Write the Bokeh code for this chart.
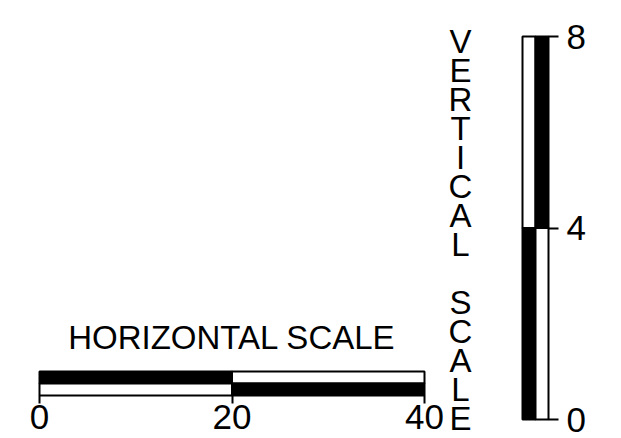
from bokeh.plotting import figure
from bokeh.models import Range1d, LinearAxis, FixedTicker, Label
from bokeh.core.properties import value
from bokeh.embed import file_html
from bokeh.resources import INLINE

# ---- data ----
h_ticks = [0, 20, 40]                 # horizontal scale tick labels
h_left = [0, 20]                      # horizontal scale segments
h_right = [20, 40]
h_top_fill = ["black", "white"]       # upper half of horizontal bar
h_bot_fill = ["white", "black"]       # lower half of horizontal bar

v_ticks = [0, 4, 8]                   # vertical scale tick labels
v_bottom = [0, 4]                     # vertical scale segments
v_top = [4, 8]
v_left_fill = ["black", "white"]      # left column of vertical bar
v_right_fill = ["white", "black"]     # right column of vertical bar

h_title = "HORIZONTAL SCALE"
v_title = "VERTICAL SCALE"

# ---- layout (figure pixels) ----
W, H = 621, 438
FONT = "Liberation Sans"

# horizontal scale placement
hx0_px, hx1_px = 39, 424              # pixel x of value 0 and 40
hbar_top, hbar_mid, hbar_bot = 371, 383, 395   # pixel y from top
# vertical scale placement
vy0_px, vy1_px = 419, 36              # pixel y (from top) of value 0 and 8
vbar_l, vbar_m, vbar_r = 522, 535, 548

hs = (h_ticks[-1] - h_ticks[0]) / (hx1_px - hx0_px)
h_range = Range1d(h_ticks[0] - hx0_px * hs, h_ticks[0] + (W - hx0_px) * hs)
vs = (v_ticks[-1] - v_ticks[0]) / (vy0_px - vy1_px)
v_range = Range1d(v_ticks[0] - (H - vy0_px) * vs, v_ticks[0] + vy0_px * vs)

p = figure(width=W, height=H, output_backend="svg", toolbar_location=None,
           x_range=Range1d(0, W), y_range=Range1d(H, 0),
           x_axis_type=None, y_axis_type=None, min_border=0)
p.extra_x_ranges = {"h": h_range}
p.extra_y_ranges = {"v": v_range}
p.grid.visible = False
p.outline_line_color = None
p.background_fill_color = "white"
p.border_fill_color = "white"

# horizontal bar
p.quad(left=h_left, right=h_right, top=[hbar_top] * 2, bottom=[hbar_mid] * 2,
       fill_color=h_top_fill, line_color="black", line_width=2, x_range_name="h")
p.quad(left=h_left, right=h_right, top=[hbar_mid] * 2, bottom=[hbar_bot] * 2,
       fill_color=h_bot_fill, line_color="black", line_width=2, x_range_name="h")

# vertical bar
p.quad(left=[vbar_l] * 2, right=[vbar_m] * 2, bottom=v_bottom, top=v_top,
       fill_color=v_left_fill, line_color="black", line_width=2, y_range_name="v")
p.quad(left=[vbar_m] * 2, right=[vbar_r] * 2, bottom=v_bottom, top=v_top,
       fill_color=v_right_fill, line_color="black", line_width=2, y_range_name="v")

# axes
xa = LinearAxis(x_range_name="h", ticker=FixedTicker(ticks=h_ticks, minor_ticks=[]),
                fixed_location=hbar_bot)
xa.axis_line_color = None
xa.major_tick_out = 8
xa.major_tick_in = 0
xa.major_tick_line_width = 2
xa.major_tick_line_color = "black"
xa.major_label_text_font = FONT
xa.major_label_text_font_size = "35px"
xa.major_label_text_color = "black"
xa.major_label_standoff = 1
p.add_layout(xa, "below")

ya = LinearAxis(y_range_name="v", ticker=FixedTicker(ticks=v_ticks, minor_ticks=[]),
                fixed_location=vbar_r)
ya.axis_line_color = None
ya.major_tick_out = 10
ya.major_tick_in = 0
ya.major_tick_line_width = 2
ya.major_tick_line_color = "black"
ya.major_label_text_font = FONT
ya.major_label_text_font_size = "35px"
ya.major_label_text_color = "black"
ya.major_label_standoff = 8
p.add_layout(ya, "right")

# titles
p.add_layout(Label(x=20, y=337, x_range_name="h", text=h_title, text_align="center",
                   text_baseline="alphabetic", text_font=FONT, text_font_size="33px",
                   text_color="black"))

letters = list(v_title)
pitch = 29
ys = [41 + i * pitch for i in range(len(letters))]
p.text(x=[460] * len(letters), y=ys, text=letters, text_align="center",
       text_baseline="alphabetic", text_font=value(FONT), text_font_size="33px",
       text_color="black")

open("out.html", "w").write(file_html(p, INLINE))
